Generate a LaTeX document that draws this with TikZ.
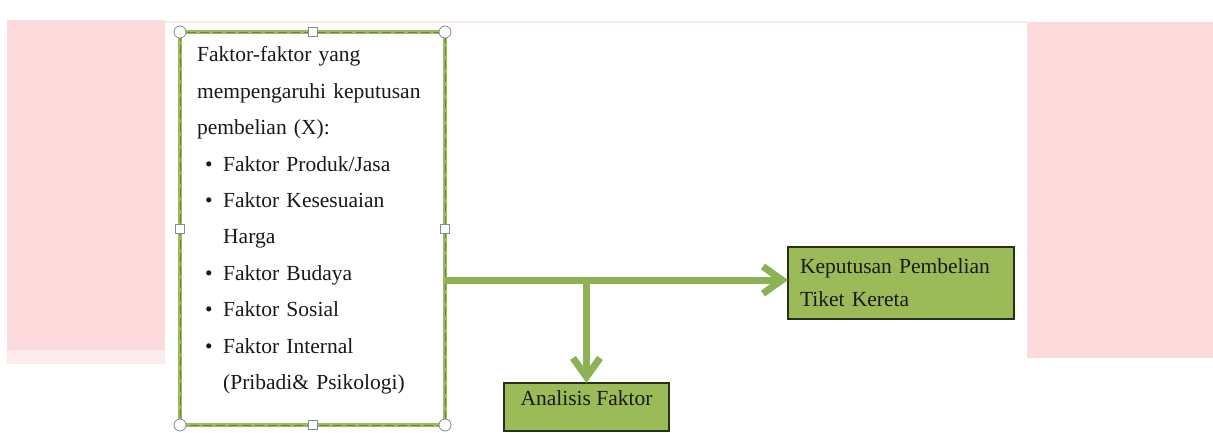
\documentclass[tikz,border=0pt]{standalone}
\usepackage{fontspec}
\setmainfont{Liberation Serif}
\usetikzlibrary{arrows.meta}
\definecolor{pinkbg}{HTML}{FDDADB}
\definecolor{boxgreen}{HTML}{9BBB59}
\definecolor{arrgreen}{HTML}{8DB255}
\definecolor{dashgreen}{HTML}{6A7F55}
\definecolor{handle}{HTML}{7F8B99}
\begin{document}
\begin{tikzpicture}[x=1pt,y=-1pt,
  txt/.style={font=\fontsize{21.5}{36.4}\selectfont, text=black!90},
  greenbox/.style={draw=black!75!boxgreen, line width=1.5pt, fill=boxgreen, inner sep=0pt, outer sep=0pt},
  flow/.style={draw=arrgreen, line width=7pt, -{Straight Barb[length=19pt,width=27pt]}},
  corner/.style={circle, draw=handle, fill=white, minimum size=12pt, inner sep=0pt, line width=0.8pt},
  midh/.style={rectangle, draw=handle, fill=white, minimum size=9pt, inner sep=0pt, line width=0.8pt}]

\useasboundingbox (0,0) rectangle (1213,432);
% background pink panels
\fill[pinkbg] (7,20) rectangle (165,350);
\fill[pinkbg!55] (7,350) rectangle (165,364);
\fill[pinkbg] (1027,22) rectangle (1213,358);
\draw[pinkbg!60, line width=1.5pt] (165,22) -- (1027,22);

% left box
\node[draw=boxgreen, line width=4.5pt, fill=white, minimum width=265pt, minimum height=393pt,
      inner sep=0pt, outer sep=0pt, anchor=north west] (fbox) at (180,32) {};
\draw[dashgreen, line width=1pt, dash pattern=on 9pt off 4pt]
  (fbox.north west) rectangle (fbox.south east);

\node[txt, anchor=north west, inner sep=0pt, text width=245pt, align=left] (ftext) at (197,46.5)
{Faktor-faktor yang\\
\makebox[220pt][s]{mempengaruhi keputusan}\\
pembelian (X):\\
\hspace*{8pt}\makebox[18pt][l]{\textbullet}Faktor Produk/Jasa\\
\hspace*{8pt}\makebox[18pt][l]{\textbullet}Faktor Kesesuaian\\
\hspace*{26pt}Harga\\
\hspace*{8pt}\makebox[18pt][l]{\textbullet}Faktor Budaya\\
\hspace*{8pt}\makebox[18pt][l]{\textbullet}Faktor Sosial\\
\hspace*{8pt}\makebox[18pt][l]{\textbullet}Faktor Internal\\
\hspace*{26pt}(Pribadi\& Psikologi)};

% selection handles
\foreach \a/\n in {north west/hnw, north east/hne, south west/hsw, south east/hse}
  \node[corner] (\n) at (fbox.\a) {};
\foreach \a/\n in {north/hn, south/hs, west/hw, east/he}
  \node[midh] (\n) at (fbox.\a) {};

% target boxes
\node[greenbox, txt, font=\fontsize{21.5}{33}\selectfont, anchor=north west,
      minimum width=226pt, minimum height=72pt, text width=202pt, align=left, inner xsep=12pt]
      (kep) at (788,247) {Keputusan Pembelian\\Tiket Kereta};
\node[greenbox, txt, anchor=north west, minimum width=165pt, minimum height=48pt,
      text height=14.7pt, text depth=18.7pt] (an) at (504,383) {Analisis Faktor};

% connectors
\coordinate (j) at (an.north |- 0,280);
\draw[flow] (fbox.east |- j) -- (kep.west |- j);
\draw[flow] (j) -- (an.north);
\end{tikzpicture}
\end{document}
